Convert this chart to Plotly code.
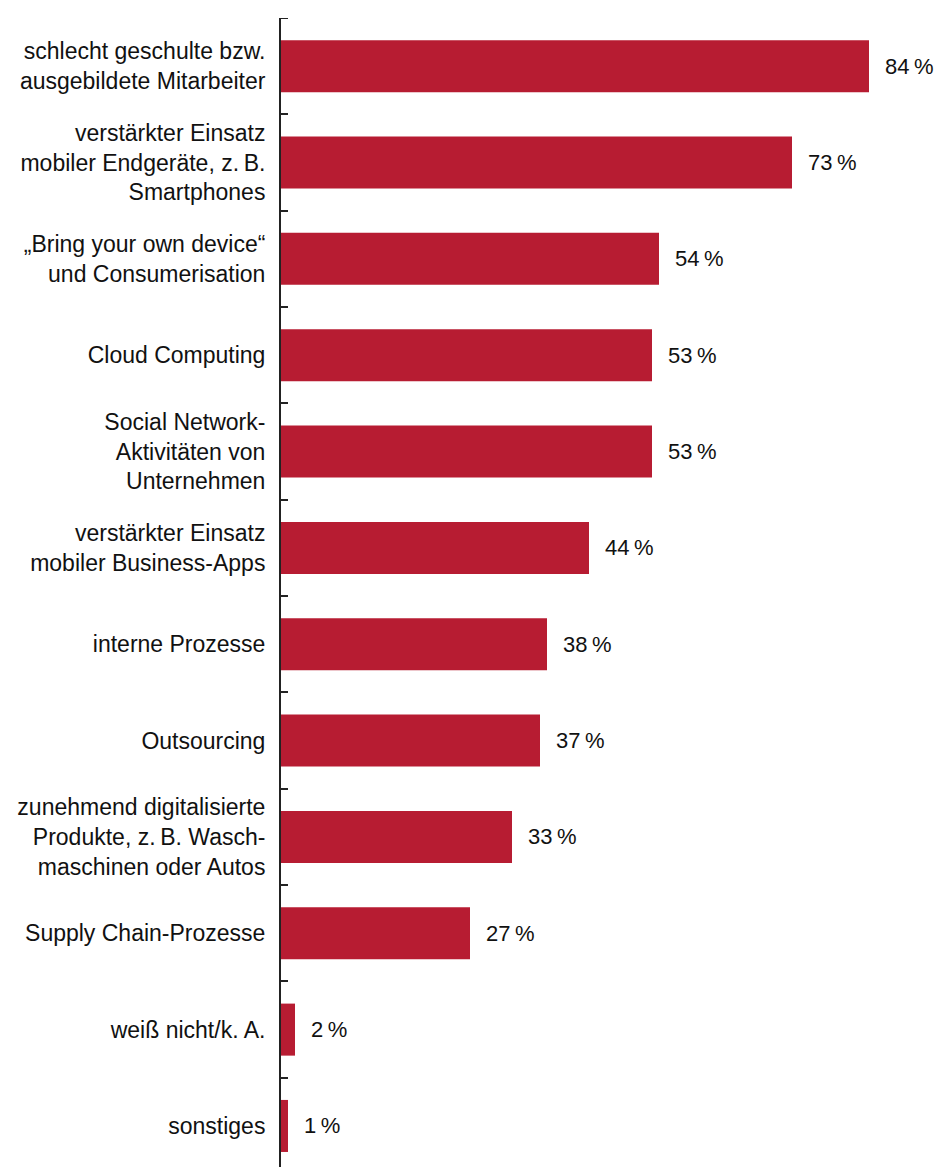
import plotly.graph_objects as go

categories = [
    "schlecht geschulte bzw.<br>ausgebildete Mitarbeiter",
    "verstärkter Einsatz<br>mobiler Endgeräte, z.\u2009B.<br>Smartphones",
    "„Bring your own device“<br>und Consumerisation",
    "Cloud Computing",
    "Social Network-<br>Aktivitäten von<br>Unternehmen",
    "verstärkter Einsatz<br>mobiler Business-Apps",
    "interne Prozesse",
    "Outsourcing",
    "zunehmend digitalisierte<br>Produkte, z.\u2009B. Wasch-<br>maschinen oder Autos",
    "Supply Chain-Prozesse",
    "weiß nicht/k. A.",
    "sonstiges",
]
values = [84, 73, 54, 53, 53, 44, 38, 37, 33, 27, 2, 1]
value_labels = [f"{v}\u2009%" for v in values]

BAR_COLOR = "#B71C32"
FONT = "Liberation Sans, Arial, sans-serif"

fig = go.Figure()
fig.add_trace(go.Bar(
    y=categories,
    x=values,
    orientation="h",
    marker=dict(color=BAR_COLOR, line=dict(width=0)),
    width=0.54,
    hoverinfo="skip",
))

for c, v, t in zip(categories, values, value_labels):
    fig.add_annotation(
        x=v, y=c, text=t, showarrow=False,
        xanchor="left", yanchor="middle", xshift=14,
        font=dict(family=FONT, size=22, color="#111111"),
    )

# top boundary tick (at the edge of the axis range)
fig.add_shape(
    type="line", xref="x", yref="y",
    x0=0, x1=1, y0=-0.5, y1=-0.5,
    line=dict(color="#222222", width=2),
)

fig.update_layout(
    width=936, height=1167,
    margin=dict(l=281, r=4, t=18, b=0),
    paper_bgcolor="white", plot_bgcolor="white",
    showlegend=False,
    font=dict(family=FONT, size=23, color="#111111"),
    xaxis=dict(
        range=[0, 93], visible=False, showgrid=False, zeroline=False,
    ),
    yaxis=dict(
        type="category",
        categoryorder="array", categoryarray=categories,
        range=[11.426, -0.5],
        showline=True, linecolor="#222222", linewidth=2,
        ticks="inside", ticklen=7, tickcolor="#222222", tickwidth=2,
        tickson="boundaries",
        showgrid=False, zeroline=False,
        ticklabelstandoff=9,
        tickfont=dict(family=FONT, size=23, color="#111111"),
    ),
)

fig.write_html("out.html")
